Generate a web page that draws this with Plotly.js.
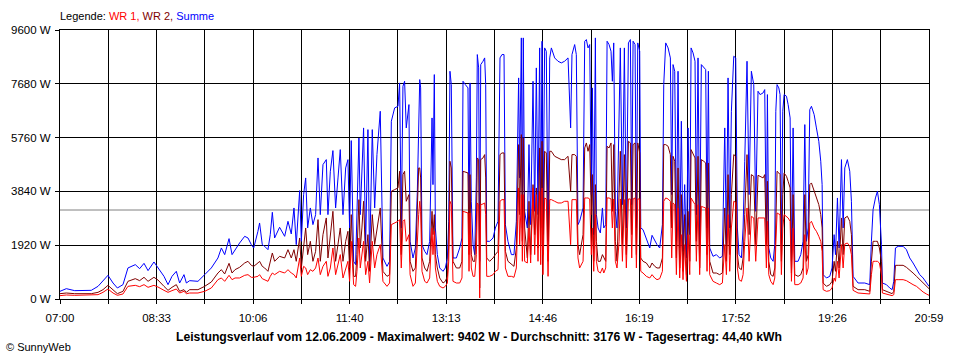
<!DOCTYPE html>
<html>
<head>
<meta charset="utf-8">
<script src="https://cdn.plot.ly/plotly-3.0.1.min.js"></script>
<style>
html,body{margin:0;padding:0;background:#fff;}
#chart{width:960px;height:360px;}
</style>
</head>
<body>
<div id="chart"></div>
<script>
// minutes after 07:00
const minutes = [0,6.1,14.2,30.2,36.7,41.5,46.3,51.2,55.4,60.8,65.6,72.7,76.9,81.1,85,90.7,94.6,100.4,104.3,108.1,112.3,115.5,119.7,122,125.2,133.2,139.7,146.1,152.5,155.8,159,163.2,166.1,169,
173.4,178.3,181.5,184.7,187,191.1,192.7,195.3,197.6,200.8,203,205,207.2,212,216.9,220.1,223.3,225.9,228.1,231.4,233,235.2,237.2,239.1,241.7,244.2,246.8,249.1,251.3,253.9,257.1,258.7,261,263.5,266.1,268.4,270.6,273.2,275.8,278,279.6,281.2,283.5,285.4,286.7,288.6,289.9,291.5,293.1,295.1,297.3,298.9,301.5,303.8,306,309.2,311.8,315.7,318.2,319.9,323.1,326.3,327.9,329.5,331.1,332.7,334.3,336.9,
338,340.8,343.1,345,346.3,347.3,348.2,349.5,352.1,354.3,356.9,359.2,360.1,361.4,362.4,364.3,366.6,369.8,372,374,375.3,376.5,377.8,379.4,382.7,385.9,388.1,389.1,391.3,393.9,394.9,395.9,397.1,398.8,400.4,402,402.9,404.2,405.2,406.2,408.4,410,411,412,414.8,418.1,420.3,422.9,424.8,426.7,428.7,430,432.5,435.8,438.3,440.6,442.8,443.8,445.4,446.4,447.3,448.6,451.2,452.8,454.4,456.7,458.3,459.9,461.5,463.1,464.1,465.4,466.3,467.9,469.5,471.2,472.8,474.4,477.6,480.8,484,487.2,490.5,493,494.3,496.9,498.5,500.1,501.7,
505,506.6,508.2,509.8,511.4,513,514,515.3,516.9,517.9,519.5,521.7,523.7,525,526.9,528.2,530.1,532,533.3,534.6,536.2,537.8,539.8,541,543,544.9,546.8,548.8,550.7,552,553.3,555.2,556.5,557.8,559.7,560.7,562.9,566.1,569.4,571.6,574.2,576.4,579,581.6,582.9,584.8,587.1,589.3,590.6,591.9,593.5,595.1,596.7,598.3,599.9,601.5,603.1,604.8,606.4,608,609.3,611.2,613.1,614.4,616,617.6,619.2,621.5,623.4,624.7,626,627.3,630.5,633.7,636.9,639.5,641.8,643.4,645,646.6,648.2,650.5,652.4,654,655.6,657.9,659.5,661.1,663.3,665.3,667.5,669.8,671.7,673.9,675.9,
678.8,680.4,682,683,684.3,686.2,688.5,690.1,691.1,692.3,694,695.2,696.5,697.8,699.1,701.4,703,704.9,706.2,707.8,709.4,712.6,715.2,717.4,719.1,720.7,722.3,723.9,725.5,728.1,730.3,732.6,734.5,735.8,736.8,740,743.2,745.4,747.4,748.7,750.6,752.2,754.5,756.1,757.7,760.2,762.5,764.1,765.7,770.5,777,781.8,783.4,785,787.3,789.2,791.1,793.1,794,797.9,801.1,803.4,805,806.6,809.2,814,817.2,820.4,823.6,826.9,830.1,833.3,836.5,839];

// Summe (W)
const summe = [274,369,298,309,452,631,845,571,393,512,1107,1226,1083,1273,1012,1321,1131,809,512,809,988,571,869,571,655,631,869,1107,1464,1821,1583,2154,1583,1761,
1999,2237,2178,1940,1821,2416,2713,1940,1880,1761,2297,3094,2178,2559,2237,2773,2321,3249,1940,3868,2059,3725,4320,2535,3249,2654,3011,5034,3011,4796,4974,3011,4558,5296,3249,4320,5331,3011,4677,4974,2535,5653,1345,1226,3011,5748,3011,4915,6105,1940,6045,1345,6045,3249,5153,6700,1464,1166,1345,6343,6819,6878,7711,2535,7592,7771,6105,6938,
2059,1464,1821,3844,6462,7830,7533,1940,1702,1583,2059,6462,4082,8009,2535,1583,1107,988,1107,1464,2773,8128,7652,1464,1464,1821,2178,7771,7652,7533,2297,7711,3487,1940,1583,4320,8723,8247,1345,8366,8485,8604,7652,2059,2059,2178,2535,2773,8604,8723,8723,2654,2059,1583,1583,2773,7890,4320,9318,2535,9318,3130,2535,5510,2654,7771,3130,8247,3011,8961,2535,9199,2297,8961,8842,2059,8604,8961,8604,8485,8425,8485,8604,6105,8723,9080,8723,2654,2773,
3249,9199,9258,8961,9080,3725,7533,2297,9318,3011,2535,2356,3249,2535,2654,9199,9080,8842,7771,9139,3130,2535,6105,8961,3368,8961,2535,9139,9258,3368,9199,9080,2535,9139,8842,2535,2475,2178,1821,2273,2059,1940,1821,2654,7652,9139,8961,8604,3725,8366,8128,2059,8128,1821,6343,1702,4082,1464,6105,2297,8961,8782,8485,3011,8604,1940,8366,8247,8187,2535,8128,1821,1523,1583,1464,1523,6105,1940,7890,2535,6700,8663,8604,2535,1583,1464,2535,4915,8485,3725,8128,7652,3130,7414,7295,
7354,7473,2059,7295,1821,1464,1345,1940,6700,7652,7533,7295,1940,6700,7295,7236,6938,6462,1345,6105,1345,1345,1583,2059,6224,2059,2535,6759,6878,6581,6105,5629,4915,4082,869,750,809,1107,2297,1583,3606,1821,4974,2535,4677,4974,4558,3487,809,571,571,512,2059,3189,3606,3844,3368,1940,571,512,393,333,631,1821,1880,1880,1761,1464,1285,1047,869,750,571,452];

// WR 2 (W)
const wr2 = [190,214,190,190,238,333,488,333,190,274,631,726,655,774,631,774,678,452,309,417,512,274,333,238,333,333,452,607,928,1047,893,1273,928,1047,
1131,1285,1345,1202,1166,1285,1345,1166,1107,988,1345,1642,1345,1523,1464,1761,1464,1761,1345,2178,1107,1940,2535,1583,2059,1345,1702,2832,1345,2297,2892,1464,2178,3130,1345,2059,2535,1345,2059,2416,1107,3011,809,809,1583,3546,1821,2535,3487,1345,2297,988,3011,1940,2535,3249,988,809,869,3844,3904,3963,4558,1583,4439,4558,3487,3725,
1345,988,1107,3130,4677,4677,4320,1464,1107,988,1345,3130,2297,3011,1583,1107,750,571,631,809,1940,4915,4677,1345,1107,1107,1345,4558,4534,4498,1583,4439,1583,1345,1345,2535,5034,4974,393,4974,5034,5153,4320,1464,1345,1464,1583,1702,5153,5212,5212,1702,1345,1226,1166,1821,5510,3011,5867,2059,5748,2535,1464,3487,1583,4082,2297,3963,1821,5391,1940,5629,1583,5272,5212,1345,5272,5272,5093,5034,4974,4974,5093,3844,5153,5153,5093,1940,1583,
2297,5391,5569,5272,5510,3011,4439,1345,4082,2059,1345,1345,1583,1464,1345,5450,5391,5569,3130,5510,2059,1345,3725,5272,1940,5153,1583,5629,5569,2297,5510,5569,1583,5569,5212,1464,1345,1285,1107,1285,1166,1107,1107,1464,5510,5510,5450,5153,2535,5093,4915,1464,4677,1107,3725,988,3011,869,3130,1345,5331,5153,5034,2059,5093,1107,4974,4915,4855,1583,4855,1345,928,928,869,928,3249,1345,4439,1583,3725,5153,5093,1583,1107,1047,1464,3011,5153,2297,4439,4379,1940,4415,4379,
4320,4439,1940,4201,1345,869,809,1107,3011,4558,4498,4439,1345,3725,4498,4379,4201,3963,928,3725,869,809,869,1107,3725,1345,1583,4082,4142,3844,3665,3368,3011,2535,571,452,512,631,1345,988,2059,1107,2892,1583,2892,2951,2773,2297,452,333,333,274,1345,2059,2059,2059,1821,1345,333,274,214,190,274,1202,1202,1202,1131,1012,928,809,690,571,452,369];

// WR 1 (W)
const wr1 = [119,143,131,131,155,238,357,214,131,179,452,488,440,512,417,488,428,309,238,298,357,214,274,190,214,214,274,393,690,750,631,845,690,750,
750,845,869,774,774,809,869,726,690,631,809,928,869,988,928,1047,928,869,750,1464,809,1166,1107,869,1047,988,1107,1464,869,1166,1345,809,1107,1821,869,1226,1583,750,1107,1345,631,2059,512,452,988,2178,1107,1583,2059,869,1345,571,2059,1107,1583,1940,631,452,571,2654,2713,2773,2832,1107,2773,2832,2059,2297,
869,452,571,2297,3011,3487,3130,988,631,571,750,2535,1583,2416,1107,631,452,393,452,571,1345,3487,3368,631,571,571,750,3130,3106,3070,988,3070,1107,809,809,1583,3427,3368,36,3368,3392,3427,3011,809,809,869,988,1047,3487,3546,3546,1107,809,809,774,1107,3963,1940,3725,1345,3725,1345,1285,2535,1285,3963,1583,3725,1345,3844,1226,3963,869,3606,3570,809,3546,3546,3487,3427,3427,3487,3487,1940,3546,3546,3546,1464,1107,
1345,3606,3606,3606,3570,1583,2535,988,3011,1345,988,928,1107,928,1107,3606,3606,3570,2535,3570,1345,1107,2059,3570,1345,3546,1107,3570,3570,1464,3570,3606,1107,3570,3570,988,928,809,750,869,750,690,726,988,3487,3606,3570,3487,1464,3427,3368,869,3249,750,2297,690,1940,631,2297,869,3606,3487,3368,1345,3368,869,3308,3273,3249,988,3249,869,631,571,512,571,1940,869,3011,988,2535,3487,3451,1107,690,631,869,2059,3249,1345,2951,2892,1345,2892,2892,
2892,2892,1107,2773,869,631,512,750,1940,3070,3035,3011,869,2535,3011,2951,2892,2773,631,2535,512,512,571,750,2297,869,1107,2713,2773,2535,2416,2237,2059,1702,333,274,298,393,750,631,1345,750,1940,1107,1963,1999,1880,1583,309,214,202,179,869,1345,1345,1345,1285,869,214,179,143,119,155,690,690,690,655,571,512,452,333,250,179,131];

const average = 3176;
const yTickValues = [0,1920,3840,5760,7680,9600];
const yTickLabels = ['0 W','1920 W','3840 W','5760 W','7680 W','9600 W'];
const xTickLabels = ['07:00','','08:33','','10:06','','11:40','','13:13','','14:46','','16:19','','17:52','','19:26','','20:59'];
const dayEnd = 839;

const xTickValues = xTickLabels.map((_, i) => i * dayEnd / (xTickLabels.length - 1));

const font = 'Liberation Sans, Arial, sans-serif';

const traces = [
  {x: minutes, y: summe, name: 'Summe', type: 'scatter', mode: 'lines', line: {color: '#0000ff', width: 1}},
  {x: minutes, y: wr2, name: 'WR 2', type: 'scatter', mode: 'lines', line: {color: '#800000', width: 1}},
  {x: minutes, y: wr1, name: 'WR 1', type: 'scatter', mode: 'lines', line: {color: '#ff0000', width: 1}}
];

const layout = {
  width: 960, height: 360,
  margin: {l: 60, r: 31, t: 30, b: 61, pad: 0},
  paper_bgcolor: '#ffffff', plot_bgcolor: '#ffffff',
  showlegend: false,
  font: {family: font, size: 11, color: '#000'},
  xaxis: {
    range: [0, dayEnd], tickmode: 'array', tickvals: xTickValues, ticktext: xTickLabels,
    showgrid: true, gridcolor: '#000', gridwidth: 1, zeroline: false,
    showline: true, linecolor: '#000', linewidth: 1, mirror: true,
    ticks: 'outside', ticklen: 4, tickcolor: '#000', tickwidth: 1, ticklabelstandoff: 4,
    tickfont: {family: font, size: 11.5, color: '#000'}, fixedrange: true
  },
  yaxis: {
    range: [0, 9600], tickmode: 'array', tickvals: yTickValues, ticktext: yTickLabels,
    showgrid: true, gridcolor: '#000', gridwidth: 1, zeroline: false,
    showline: true, linecolor: '#000', linewidth: 1, mirror: true,
    ticks: 'outside', ticklen: 4, tickcolor: '#000', tickwidth: 1, ticklabelstandoff: 2,
    tickfont: {family: font, size: 11.5, color: '#000'}, fixedrange: true
  },
  shapes: [
    {type: 'line', xref: 'paper', x0: 0, x1: 1, yref: 'y', y0: average, y1: average,
     line: {color: '#808080', width: 1}, layer: 'between'}
  ],
  annotations: [
    {xref: 'paper', yref: 'paper', x: -0.002, y: 1.052, xanchor: 'left', yanchor: 'middle', showarrow: false,
     text: 'Legende: <span style="color:#ff0000">WR 1,</span> <span style="color:#800000">WR 2,</span> <span style="color:#0000ff">Summe</span>',
     font: {family: font, size: 11, color: '#000'}},
    {xref: 'paper', yref: 'paper', x: 0.4827, y: -0.142, xanchor: 'center', yanchor: 'middle', showarrow: false,
     text: '<b>Leistungsverlauf vom 12.06.2009 - Maximalwert: 9402 W - Durchschnitt: 3176 W - Tagesertrag: 44,40 kWh</b>',
     font: {family: font, size: 12.2, color: '#000'}},
    {xref: 'paper', yref: 'paper', x: -0.064, y: -0.178, xanchor: 'left', yanchor: 'middle', showarrow: false,
     text: '© SunnyWeb', font: {family: font, size: 11, color: '#000'}}
  ]
};

Plotly.newPlot('chart', traces, layout, {displayModeBar: false, staticPlot: true});
</script>
</body>
</html>
